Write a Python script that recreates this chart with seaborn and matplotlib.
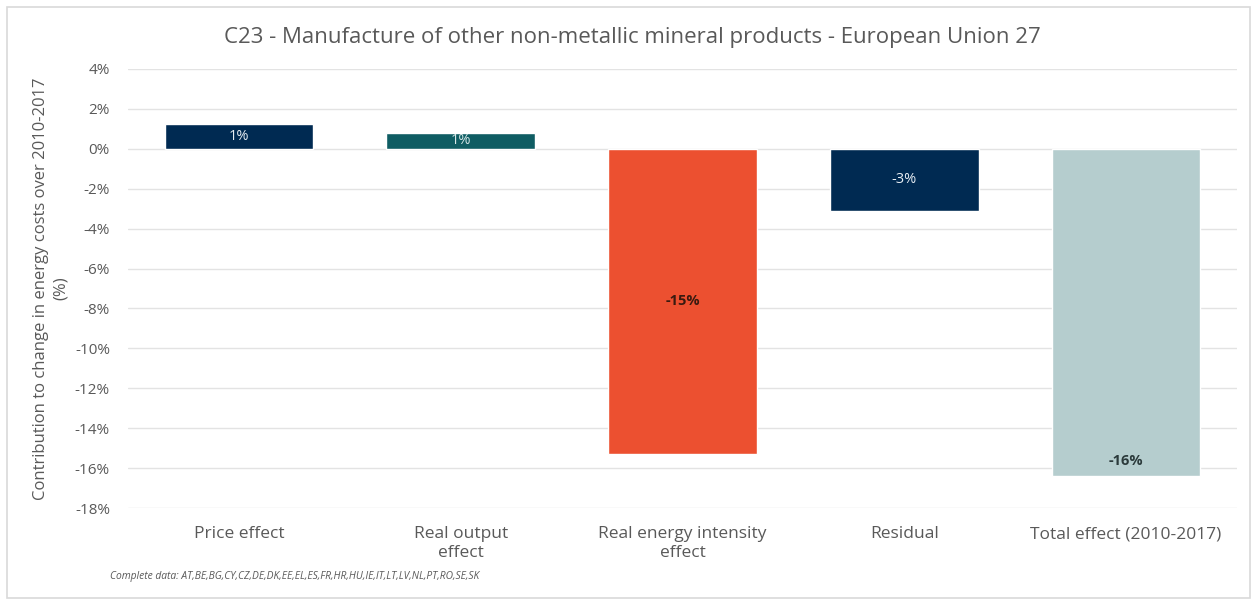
import matplotlib
matplotlib.use("Agg")
import matplotlib.pyplot as plt
import seaborn as sns
import pandas as pd
from matplotlib.patches import Rectangle

categories = ["Price effect", "Real output\neffect", "Real energy intensity\neffect", "Residual", "Total effect (2010-2017)"]
values = [1.25, 0.8, -15.3, -3.1, -16.4]
labels = ["1%", "1%", "-15%", "-3%", "-16%"]
colors = ["#002A52", "#0F5D63", "#EC5030", "#002A52", "#B5CDCE"]
label_colors = ["#E8EEF4", "#D8E8E8", "#3A1A10", "#E8EEF4", "#2B3A3B"]
yticks = list(range(-18, 5, 2))

sns.set_theme(style="white")
plt.rcParams['font.family'] = ['Open Sans', 'DejaVu Sans']

df = pd.DataFrame({"cat": categories, "val": values})

fig = plt.figure(figsize=(12.55, 6.01), dpi=100)
ax = fig.add_axes([128/1255, 93/601, (1237-128)/1255, (508-69)/601])

sns.barplot(data=df, x="cat", y="val", hue="cat", palette=colors, width=0.67,
            dodge=False, legend=False, ax=ax, saturation=1)

ax.set_ylim(-18, 4)
ax.set_xlim(-0.5, 4.5)
ax.set_yticks(yticks)
ax.set_yticklabels([f"{t}%" for t in yticks], color="#595959", fontsize=11)
ax.set_xticks(range(len(categories)))
ax.set_xticklabels(categories, color="#595959", fontsize=12.5, linespacing=1.25)
ax.tick_params(axis="y", length=0, pad=13)
ax.tick_params(axis="x", length=0, pad=13)
ax.yaxis.grid(True, color="#E3E3E3", linewidth=1)
ax.set_axisbelow(True)
for s in ax.spines.values():
    s.set_visible(False)
ax.set_xlabel("")
ax.set_ylabel("Contribution to change in energy costs over 2010-2017\n(%)",
              color="#595959", fontsize=12, labelpad=4, linespacing=1.35)

for i, (v, lab) in enumerate(zip(values, labels)):
    if i == 4:
        y = v + 0.75
    else:
        y = v / 2
    ax.text(i, y, lab, ha="center", va="center", fontsize=10.5,
            color=label_colors[i], fontweight="bold" if i in (2, 4) else "normal")

fig.text(632/1255, 1 - 37/601, "C23 - Manufacture of other non-metallic mineral products - European Union 27",
         ha="center", va="center", fontsize=16, color="#595959")
fig.text(110/1255, 1 - 577/601,
         "Complete data: AT,BE,BG,CY,CZ,DE,DK,EE,EL,ES,FR,HR,HU,IE,IT,LT,LV,NL,PT,RO,SE,SK",
         ha="left", va="center", fontsize=7.4, style="italic", color="#595959")

fig.patches.append(Rectangle((7/1255, 3/601), 1243/1255, 591/601, transform=fig.transFigure,
                             fill=False, edgecolor="#D9D9D9", linewidth=1.2))

fig.savefig("out.png", dpi=100, facecolor="white")
